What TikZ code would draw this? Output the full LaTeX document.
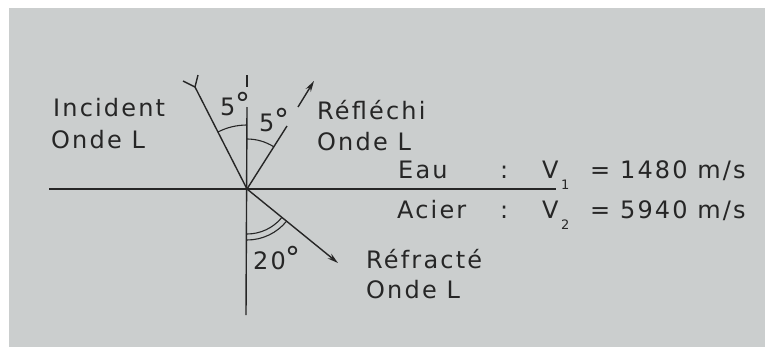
\documentclass[tikz,border=0pt]{standalone}
\usepackage{fontspec}
\setmainfont{DejaVu Sans}[LetterSpace=9]
\usetikzlibrary{arrows.meta}
\definecolor{bgcol}{RGB}{203,206,206}
\definecolor{ink}{RGB}{38,38,38}
\newcommand{\degr}{\raisebox{0.5pt}{\fontsize{30}{30}\selectfont °}}
\tikzset{
  lbl/.style={anchor=base west, inner sep=0pt, text=ink, font=\fontsize{24}{28}\selectfont},
  sub/.style={anchor=base west, inner sep=0pt, text=ink, font=\fontsize{13}{15}\selectfont},
  ray/.style={draw=ink, line width=1.4pt},
  arr/.style={draw=ink, line width=1.4pt, -{Stealth[length=11pt,width=6pt]}},
  angarc/.style={draw=ink, line width=1.1pt}
}
\begin{document}
\begin{tikzpicture}[x=1pt,y=1pt]
\useasboundingbox (0,0) rectangle (765,-351);
\fill[bgcol] (9,-8) rectangle (765,-347);
% key points
\coordinate (O) at (247,-189);
\coordinate (L) at (49,-189);
\coordinate (R) at (556,-189);
\coordinate (Nt1) at (247,-75);
\coordinate (Nt2) at (247,-87);
\coordinate (Nt3) at (247,-107);
\coordinate (Nb) at (246,-315);
\coordinate (F) at (195,-87);
\coordinate (F1) at (183,-81);
\coordinate (F2) at (198,-75);
\coordinate (Rf) at (287,-126);
\coordinate (Ra) at (298,-107);
\coordinate (Rb) at (314,-81);
\coordinate (T) at (338,-263);
% interface and normal
\draw[ray] (L) -- (R);
\draw[ray] (Nt1) -- (Nt2);
\draw[ray] (Nt3) -- (Nb);
% incident ray with tail
\draw[ray] (O) -- (F);
\draw[ray] (F) -- (F1);
\draw[ray] (F) -- (F2);
% reflected ray
\draw[ray] (O) -- (Rf);
\draw[arr] (Ra) -- (Rb);
% refracted ray
\draw[arr] (O) -- (T);
% angle arcs
\draw[angarc] (O) ++(90:64) arc[start angle=90, end angle=117.3, radius=64];
\draw[angarc] (O) ++(57.6:50) arc[start angle=57.6, end angle=90, radius=50];
\draw[angarc] (O) ++(-90:45) arc[start angle=-90, end angle=-40, radius=45];
\draw[angarc] (O) ++(-90:51) arc[start angle=-90, end angle=-39, radius=51];
% labels
\node[lbl] (inc) at (53,-116) {Incident};
\node[lbl] (incL) at (51,-148) {Onde L};
\node[lbl] (a1) at (220,-115) {5\degr};
\node[lbl] (a2) at (259,-131) {5\degr};
\node[lbl] (refl) at (317,-119) {Réfléchi};
\node[lbl] (reflL) at (317,-150) {Onde L};
\node[lbl] (eau) at (398,-178) {Eau};
\node[lbl] (c1) at (500,-178) {:};
\node[lbl] (v1) at (542,-178) {V};
\node[sub] (s1) at (561,-189) {1};
\node[lbl] (e1) at (590,-178) {= 1480 m/s};
\node[lbl] (ac) at (397,-218) {Acier};
\node[lbl] (c2) at (500,-218) {:};
\node[lbl] (v2) at (542,-218) {V};
\node[sub] (s2) at (561,-229) {2};
\node[lbl] (e2) at (590,-218) {= 5940 m/s};
\node[lbl] (a3) at (253,-269) {20\degr};
\node[lbl] (refr) at (366,-268) {Réfracté};
\node[lbl] (refrL) at (366,-298) {Onde L};
\end{tikzpicture}
\end{document}
